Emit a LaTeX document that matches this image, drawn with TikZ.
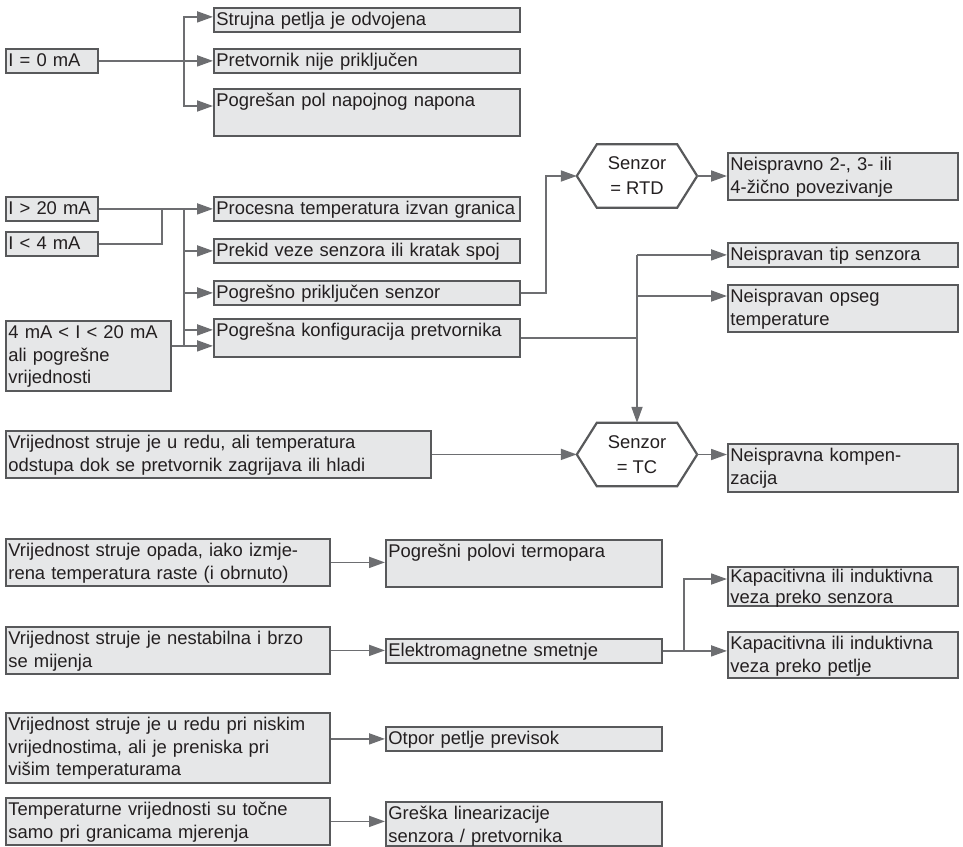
\documentclass[tikz,border=0pt]{standalone}
\usepackage{fontspec}
\setmainfont{Liberation Sans}
\usetikzlibrary{arrows.meta,calc}
\definecolor{boxC}{HTML}{E6E7E8}
\definecolor{bordC}{HTML}{58595B}
\definecolor{lineC}{HTML}{6D6E71}
\definecolor{txtC}{HTML}{231F20}
\begin{document}
\begin{tikzpicture}[x=1pt,y=-1pt, font=\fontsize{18.4}{22.5}\selectfont, text=txtC,
 bx/.style 2 args={draw=bordC, fill=boxC, line width=1.8pt, anchor=north west, inner xsep=2.5pt, inner ysep=2pt, text width=#1, text height=16pt, text depth=#2, align=left},
 ln/.style={draw=lineC, line width=1.8pt},
 arr/.style={ln, -{Triangle[length=16pt,width=11pt]}},
 hx/.style={minimum width=120pt, minimum height=63pt, inner sep=0pt, align=center, font=\fontsize{18.4}{25}\selectfont},
 hxb/.style={draw=bordC, line width=2.2pt, line join=miter}]
\useasboundingbox (0,0) rectangle (963,846);

% ---------- section 1
\node[bx={87pt}{4pt}] (i0) at (5,48) {I = 0 mA};
\node[bx={301pt}{4pt}] (s1) at (213,7) {Strujna petlja je odvojena};
\node[bx={301pt}{4pt}] (s2) at (213,48) {Pretvornik nije priključen};
\node[bx={301pt}{27pt}] (s3) at (213,88) {Pogrešan pol napojnog napona};

\path (i0.east) ++(85,0) coordinate (j1);
\draw[arr] (i0.east) -- (i0.east -| s2.west);
\draw[arr] (j1) |- ([yshift=3pt]s1.west);
\draw[arr] (j1) |- ([yshift=-18pt]s3.north west);

% ---------- section 2
\node[bx={87pt}{4pt}] (gt20) at (5,196) {I > 20 mA};
\node[bx={87pt}{4pt}] (lt4) at (5,231) {I < 4 mA};
\node[bx={301pt}{4pt}] (proc) at (213,196) {Procesna temperatura izvan granica};
\node[bx={301pt}{4pt}] (prek) at (213,238) {Prekid veze senzora ili kratak spoj};
\node[bx={301pt}{4pt}] (prik) at (213,280) {Pogrešno priključen senzor};
\node[bx={301pt}{18pt}] (konf) at (213,318) {Pogrešna konfiguracija pretvornika};
\node[bx={160pt}{50pt}] (ma4) at (5,320) {4 mA < I < 20 mA\\ali pogrešne\\vrijednosti};

\path (gt20.east) ++(63,0) coordinate (j2);
\path (gt20.east) ++(85,0) coordinate (j3);
\path (ma4.east) ++(12,-10) coordinate (j4);
\draw[arr] (gt20.east) -- (gt20.east -| proc.west);
\draw[ln] (lt4.east) -| (j2);
\draw[ln] (j3) -- (j4);
\draw[arr] (j3 |- prek.west) -- (prek.west);
\draw[arr] (j3 |- prik.west) -- (prik.west);
\draw[arr] (j3 |- konf.west) ++(0,-8) -- ([yshift=8pt]konf.west);
\draw[arr] (ma4.east |- j4) -- (j4 -| konf.west);

% RTD
\node[hx] (rtd) at (637,176) {Senzor\\= RTD};
\draw[hxb] (rtd.west) -- ([xshift=20pt]rtd.north west) -- ([xshift=-20pt]rtd.north east) -- (rtd.east) -- ([xshift=-20pt]rtd.south east) -- ([xshift=20pt]rtd.south west) -- cycle;
\node[bx={225pt}{27pt}] (rtdbox) at (727,152) {Neispravno 2-, 3- ili\\4-žično povezivanje};
\draw[arr] (prik.east) -- ++(25,0) |- (rtd.west);
\draw[arr] (rtd.east) -- (rtd.east -| rtdbox.west);

% TC
\node[hx] (tc) at (637,454.5) {Senzor\\= TC};
\draw[hxb] (tc.west) -- ([xshift=20pt]tc.north west) -- ([xshift=-20pt]tc.north east) -- (tc.east) -- ([xshift=-20pt]tc.south east) -- ([xshift=20pt]tc.south west) -- cycle;
\node[bx={225pt}{4pt}] (tip) at (727,242) {Neispravan tip senzora};
\node[bx={225pt}{27pt}] (opseg) at (727,284) {Neispravan opseg\\temperature};
\coordinate (opA) at ([yshift=-12pt]opseg.north west);
\draw[arr] (tc.north |- tip.west) -- (tc.north);
\draw[arr] (tc.north |- tip.west) -- (tip.west);
\draw[arr] (tc.north |- opA) -- (opA);
\draw[ln] (konf.east) -- (konf.east -| tc.north);

\node[bx={420pt}{27pt}] (tcin) at (5,430) {Vrijednost struje je u redu, ali temperatura\\odstupa dok se pretvornik zagrijava ili hladi};
\node[bx={225pt}{28pt}] (komp) at (727,443) {Neispravna kompen-\\zacija};
\draw[arr] (tcin.east) -- (tcin.east -| tc.west);
\draw[arr] (tc.east) -- (tc.east -| komp.west);

% ---------- bottom
\node[bx={319pt}{27pt}] (opada) at (5,538) {Vrijednost struje opada, iako izmje-\\rena temperatura raste (i obrnuto)};
\node[bx={271pt}{27pt}] (polovi) at (385,539) {Pogrešni polovi termopara};
\draw[arr] (opada.east) -- (opada.east -| polovi.west);

\node[bx={319pt}{27pt}] (nestab) at (5,626) {Vrijednost struje je nestabilna i brzo\\se mijenja};
\node[bx={271pt}{4pt}] (elmag) at (385,638) {Elektromagnetne smetnje};
\node[bx={225pt}{21pt}, text height=14pt, font=\fontsize{18.4}{21}\selectfont] (kap1) at (727,566) {Kapacitivna ili induktivna\\veza preko senzora};
\node[bx={225pt}{26pt}] (kap2) at (727,631) {Kapacitivna ili induktivna\\veza preko petlje};
\draw[arr] (nestab.east) -- (nestab.east -| elmag.west);
\path (elmag.east) ++(21,0) coordinate (j7);
\draw[ln] (elmag.east) -- (j7);
\draw[arr] (j7) |- ([yshift=-13pt]kap1.north west);
\draw[arr] (j7) -- (j7 -| kap2.west);

\node[bx={319pt}{50pt}] (nisk) at (5,712) {Vrijednost struje je u redu pri niskim\\vrijednostima, ali je preniska pri\\višim temperaturama};
\node[bx={271pt}{4pt}] (otpor) at (385,726) {Otpor petlje previsok};
\draw[arr] (nisk.east |- otpor.west) -- (otpor.west);

\node[bx={319pt}{27pt}] (tocne) at (5,797) {Temperaturne vrijednosti su točne\\samo pri granicama mjerenja};
\node[bx={271pt}{24pt}] (greska) at (385,801) {Greška linearizacije\\senzora / pretvornika};
\draw[arr] (tocne.east) -- (tocne.east -| greska.west);
\end{tikzpicture}
\end{document}
